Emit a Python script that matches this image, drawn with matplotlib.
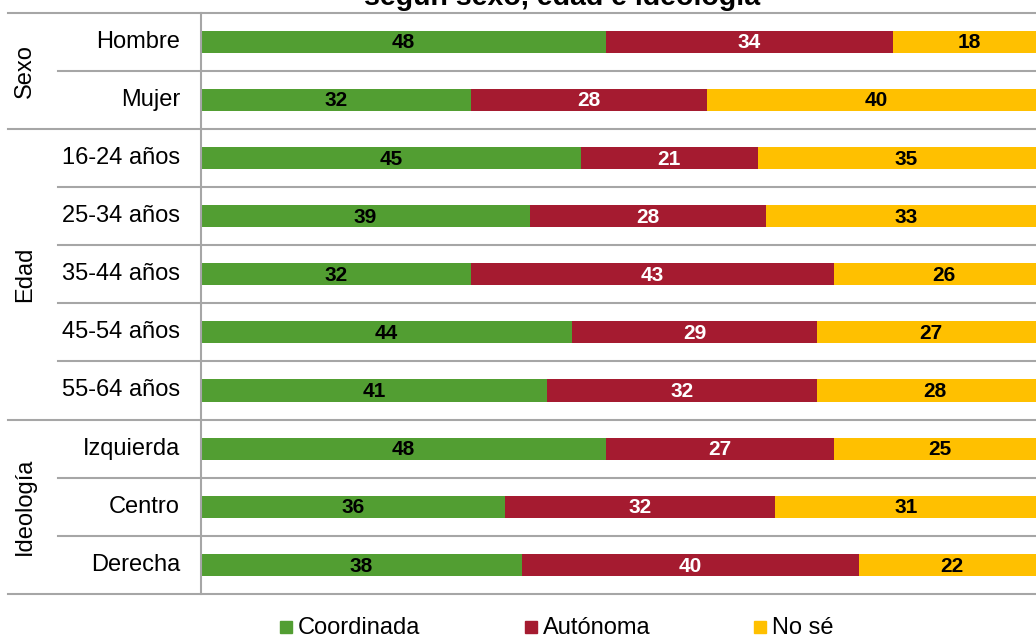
import matplotlib
matplotlib.use("Agg")
import matplotlib.pyplot as plt
from matplotlib.lines import Line2D
from matplotlib.patches import Rectangle
from matplotlib.transforms import blended_transform_factory

plt.rcParams['font.family'] = ['Liberation Sans', 'DejaVu Sans']

categories = ["Hombre", "Mujer", "16-24 años", "25-34 años", "35-44 años",
              "45-54 años", "55-64 años", "Izquierda", "Centro", "Derecha"]
series_names = ["Coordinada", "Autónoma", "No sé"]
coordinada = [48, 32, 45, 39, 32, 44, 41, 48, 36, 38]
autonoma = [34, 28, 21, 28, 43, 29, 32, 27, 32, 40]
nose = [18, 40, 35, 33, 26, 27, 28, 25, 31, 22]
groups = ["Sexo", "Edad", "Ideología"]
group_bounds = [(0, 2), (2, 7), (7, 10)]
title = "según sexo, edad e ideología"

colors = ["#529E32", "#A51B30", "#FFC000"]
text_colors = ["black", "white", "black"]

W, H = 1036, 635
fig = plt.figure(figsize=(W / 100, H / 100), dpi=100)
ax = fig.add_axes([201 / W, (H - 594) / H, 844 / W, (594 - 12.5) / H])

n = len(categories)
ys = [i + 0.5 for i in range(n)]
left = [0] * n
for vals, col, tcol in zip([coordinada, autonoma, nose], colors, text_colors):
    ax.barh(ys, vals, left=left, height=0.38, color=col, edgecolor='none')
    for y, l, v in zip(ys, left, vals):
        ax.text(l + v / 2, y + 0.02, str(v), ha='center', va='center',
                color=tcol, fontsize=15, fontweight='bold')
    left = [a + b for a, b in zip(left, vals)]

ax.set_xlim(0, 100)
ax.set_ylim(n, 0)
ax.set_xticks([])
ax.set_yticks([])
for s in ['top', 'right', 'bottom']:
    ax.spines[s].set_visible(False)
ax.spines['left'].set_color('#A6A6A6')
ax.spines['left'].set_linewidth(1.5)

tr = blended_transform_factory(fig.transFigure, ax.transData)
group_edges = set()
for a, b in group_bounds:
    group_edges.add(a)
    group_edges.add(b)
for k in range(n + 1):
    x0 = 8 / W if k in group_edges else 58 / W
    ax.add_line(Line2D([x0, 1.0], [k, k], transform=tr, color='#A6A6A6',
                       lw=1.5, clip_on=False))

for cat, y in zip(categories, ys):
    ax.text(180 / W, y, cat, transform=tr, ha='right', va='center', fontsize=17)

for g, (a, b) in zip(groups, group_bounds):
    ax.text(25 / W, (a + b) / 2, g, transform=tr, ha='center', va='center',
            rotation=90, fontsize=17)

fig.text(562 / W, (H - 5) / H, title, ha='center', va='baseline',
         fontsize=20.5, fontweight='bold')

sq_x = [280, 525, 754]
for name, col, x in zip(series_names, colors, sq_x):
    fig.patches.append(Rectangle((x / W, (H - 633) / H), 12 / W, 12 / H,
                                 transform=fig.transFigure, color=col))
    fig.text((x + 18) / W, (H - 634) / H, name, ha='left', va='baseline',
             fontsize=17)

fig.savefig("out.png", dpi=100)
